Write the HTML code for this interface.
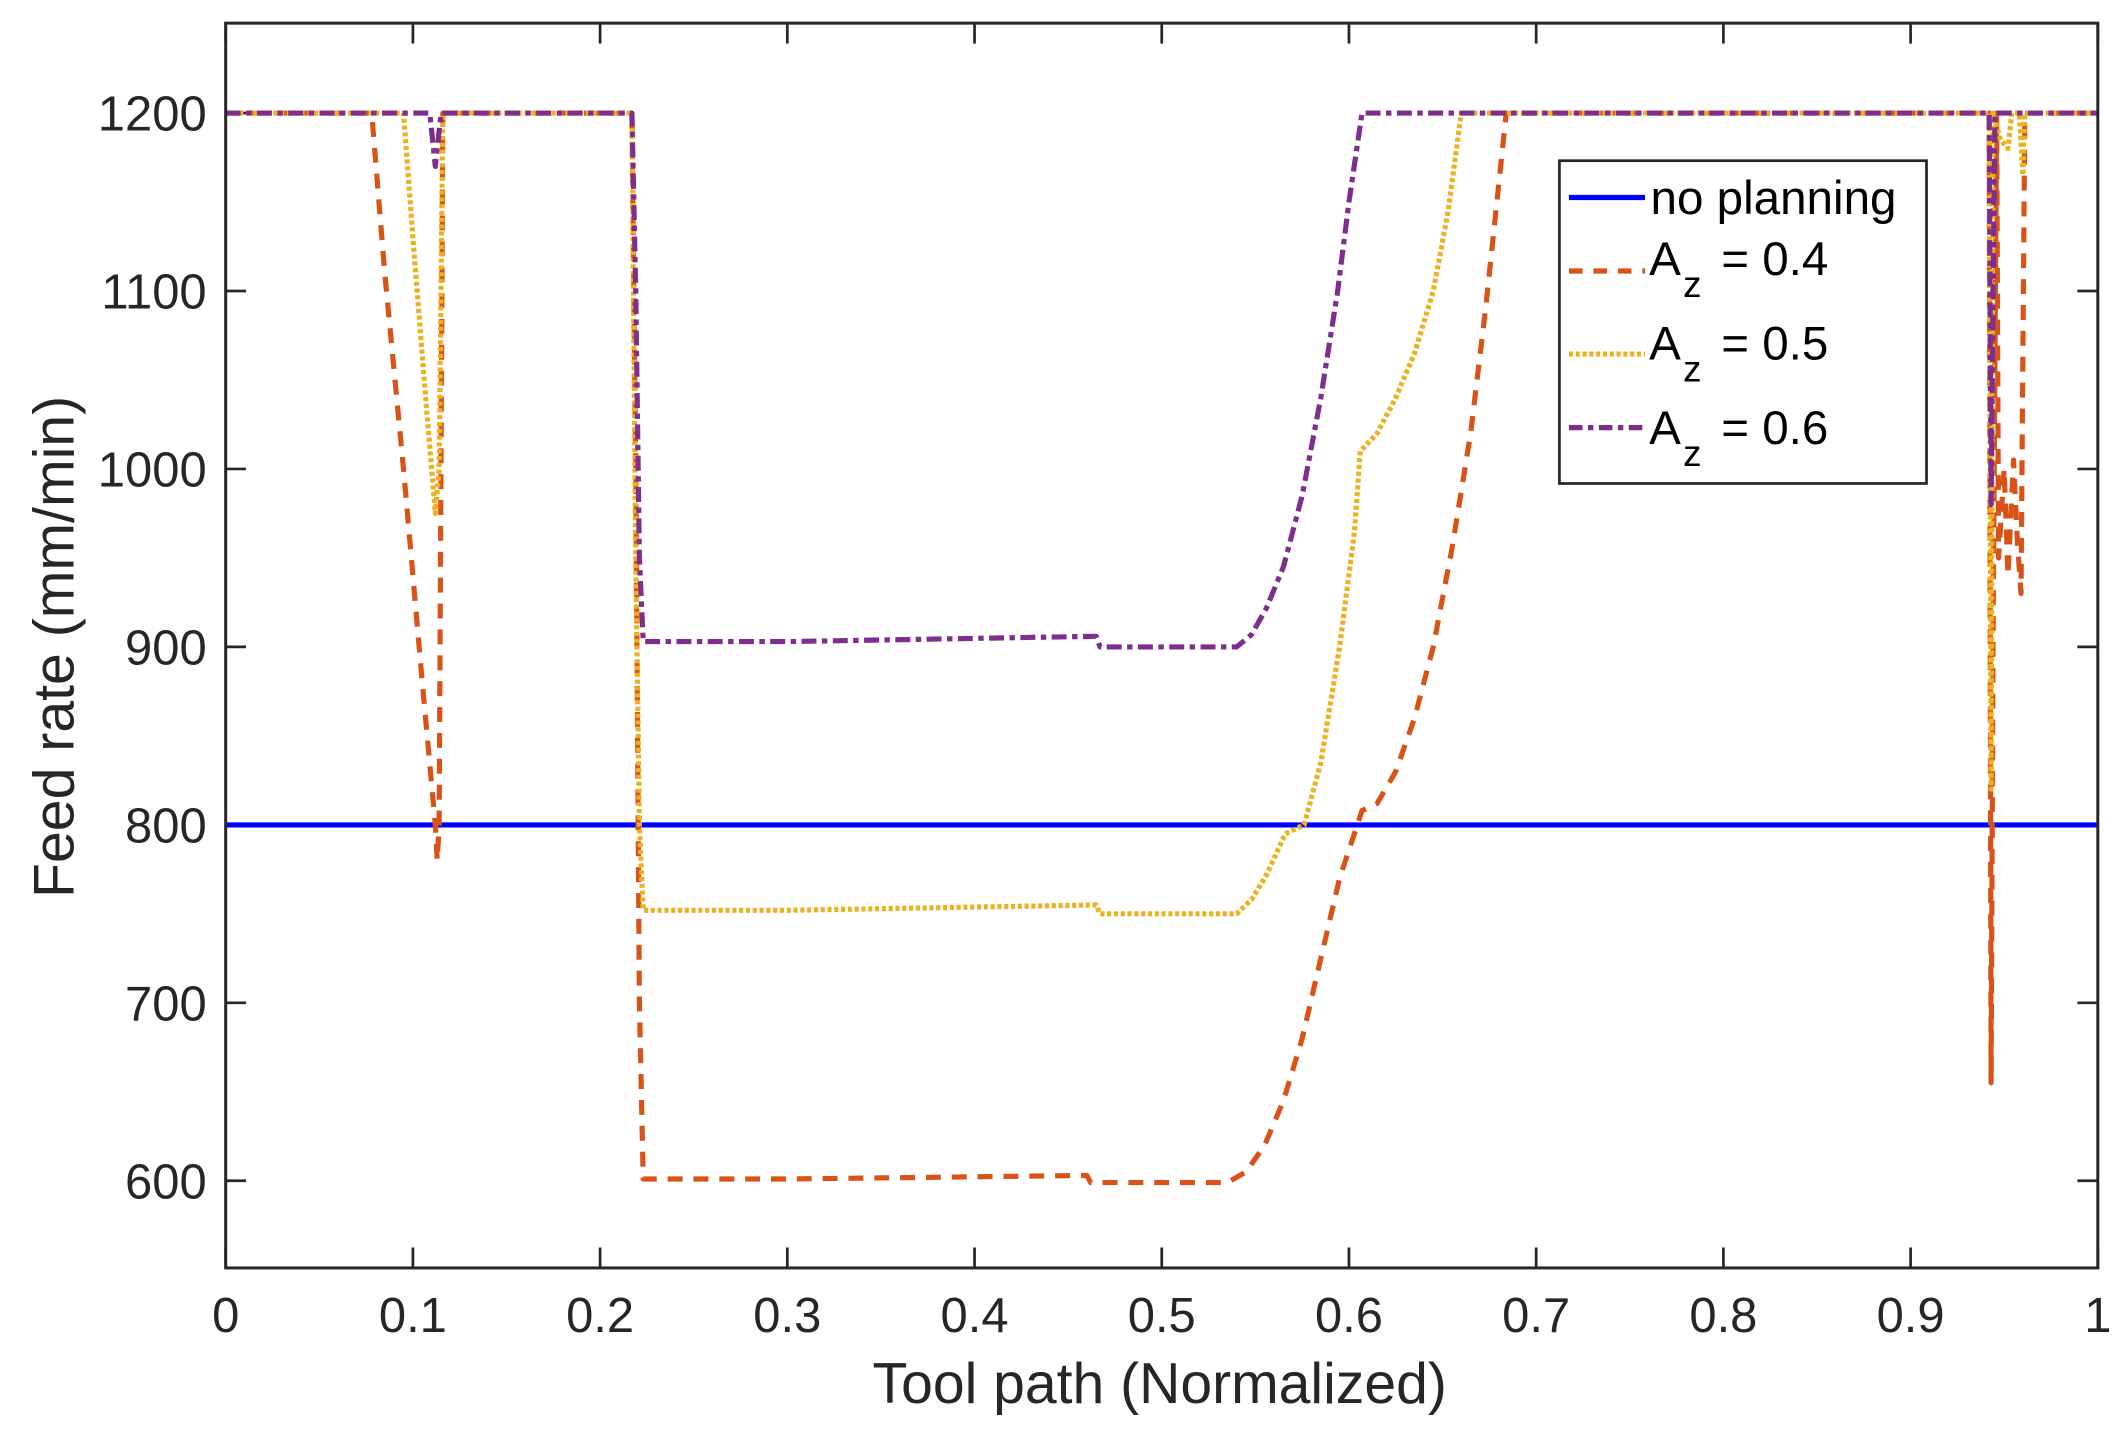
<!DOCTYPE html>
<html><head><meta charset="utf-8"><style>
html,body{margin:0;padding:0;background:#fff;}
svg{display:block;}
text{font-family:"Liberation Sans",Arial,sans-serif;fill:#262626;}
</style></head><body>
<svg id="s" width="2125" height="1430" viewBox="0 0 1563 1050" preserveAspectRatio="none" xmlns="http://www.w3.org/2000/svg">
<rect x="0" y="0" width="1563" height="1050" fill="#fff"/>
<g id="ticks" stroke="#262626" stroke-width="2"></g>
<g id="series" fill="none" stroke-linejoin="round"></g>
<rect x="166" y="17" width="1377" height="914" fill="none" stroke="#262626" stroke-width="2.2"/>
<g id="labels" font-size="36"></g>
<text x="853" y="1030" font-size="42" text-anchor="middle">Tool path (Normalized)</text>
<text transform="translate(54,475) rotate(-90)" font-size="42" text-anchor="middle">Feed rate (mm/min)</text>
<g>
<rect x="1147" y="118" width="270" height="237" fill="#fff" stroke="#262626" stroke-width="2"/>
<line x1="1154" y1="145" x2="1210" y2="145" stroke="#0000ff" stroke-width="3.8"/>
<line x1="1154" y1="199" x2="1210" y2="199" stroke="#d95319" stroke-width="3.8" stroke-dasharray="10,8"/>
<line x1="1154" y1="260" x2="1210" y2="260" stroke="#edb120" stroke-width="3.8" stroke-dasharray="3,2"/>
<line x1="1154" y1="314" x2="1210" y2="314" stroke="#7e2f8e" stroke-width="3.8" stroke-dasharray="10,4,4,4"/>
<text x="1214" y="157" font-size="35" style="fill:#000">no planning</text>
<text x="1213" y="202" font-size="35" style="fill:#000">A</text><text x="1238" y="218" font-size="27" style="fill:#000">z</text><text x="1266" y="202" font-size="35" style="fill:#000">= 0.4</text>
<text x="1213" y="264" font-size="35" style="fill:#000">A</text><text x="1238" y="280" font-size="27" style="fill:#000">z</text><text x="1266" y="264" font-size="35" style="fill:#000">= 0.5</text>
<text x="1213" y="326" font-size="35" style="fill:#000">A</text><text x="1238" y="342" font-size="27" style="fill:#000">z</text><text x="1266" y="326" font-size="35" style="fill:#000">= 0.6</text>
</g>
</svg>
<script>
var NS="http://www.w3.org/2000/svg";
function X(t){return 166+1377*t;}
function Y(v){return 867-(v-600)*1.30667;}
function el(p,tag,a){var e=document.createElementNS(NS,tag);for(var k in a)e.setAttribute(k,a[k]);p.appendChild(e);return e;}
var tk=document.getElementById('ticks'),lb=document.getElementById('labels');
for(var i=0;i<=10;i++){var t=i/10,x=X(t);
 el(tk,'line',{x1:x,y1:931,x2:x,y2:916});el(tk,'line',{x1:x,y1:17,x2:x,y2:32});
 var tx=el(lb,'text',{x:x,y:978,'text-anchor':'middle'});tx.textContent=(i==0?'0':i==10?'1':'0.'+i);}
for(var v=600;v<=1200;v+=100){var y=Y(v);
 el(tk,'line',{x1:166,y1:y,x2:181,y2:y});el(tk,'line',{x1:1543,y1:y,x2:1528,y2:y});
 var ty=el(lb,'text',{x:152,y:y+13,'text-anchor':'end'});ty.textContent=v;}
function path(pts,col,dash){var d='';pts.forEach(function(p,i){d+=(i?'L':'M')+X(p[0]).toFixed(1)+','+Y(p[1]).toFixed(1);});
 var a={d:d,stroke:col,'stroke-width':3.8};if(dash)a['stroke-dasharray']=dash;el(document.getElementById('series'),'path',a);}
path([[0,800],[1,800]],'#0000ff',null);
path([[0,1200],[0.078,1200],[0.085,1110],[0.095,1000],[0.105,880],[0.112,800],[0.113,780],[0.114,800],[0.116,1200],[0.217,1200],[0.219,1000],[0.221,700],[0.223,601],[0.3,601],[0.46,603],[0.462,599],[0.535,599],[0.545,605],[0.555,620],[0.565,645],[0.575,680],[0.585,725],[0.595,770],[0.607,808],[0.615,812],[0.625,830],[0.635,860],[0.645,900],[0.655,955],[0.665,1020],[0.673,1090],[0.679,1150],[0.684,1200],[0.942,1200],[0.943,655],[0.944,900],[0.946,1200],[0.947,950],[0.95,1000],[0.952,940],[0.955,1005],[0.957,960],[0.959,930],[0.961,1200],[1,1200]],'#d95319','11,8');
path([[0,1200],[0.095,1200],[0.1,1130],[0.106,1050],[0.112,975],[0.114,1000],[0.116,1200],[0.217,1200],[0.219,950],[0.221,800],[0.223,752],[0.3,752],[0.465,755],[0.467,750],[0.54,750],[0.548,758],[0.556,772],[0.566,795],[0.576,800],[0.585,835],[0.595,900],[0.603,965],[0.606,1010],[0.615,1020],[0.625,1040],[0.635,1065],[0.645,1100],[0.653,1145],[0.66,1200],[0.942,1200],[0.943,820],[0.944,1200],[0.948,1185],[0.952,1180],[0.954,1200],[0.958,1200],[0.96,1165],[0.961,1200],[1,1200]],'#edb120','3,2');
path([[0,1200],[0.109,1200],[0.112,1170],[0.115,1200],[0.217,1200],[0.219,1100],[0.221,950],[0.223,903],[0.3,903],[0.465,906],[0.467,900],[0.54,900],[0.548,907],[0.556,922],[0.565,945],[0.575,985],[0.585,1040],[0.594,1100],[0.6,1150],[0.607,1200],[0.942,1200],[0.943,980],[0.945,1200],[1,1200]],'#7e2f8e','11,4,4,4');
</script>
</body></html>
